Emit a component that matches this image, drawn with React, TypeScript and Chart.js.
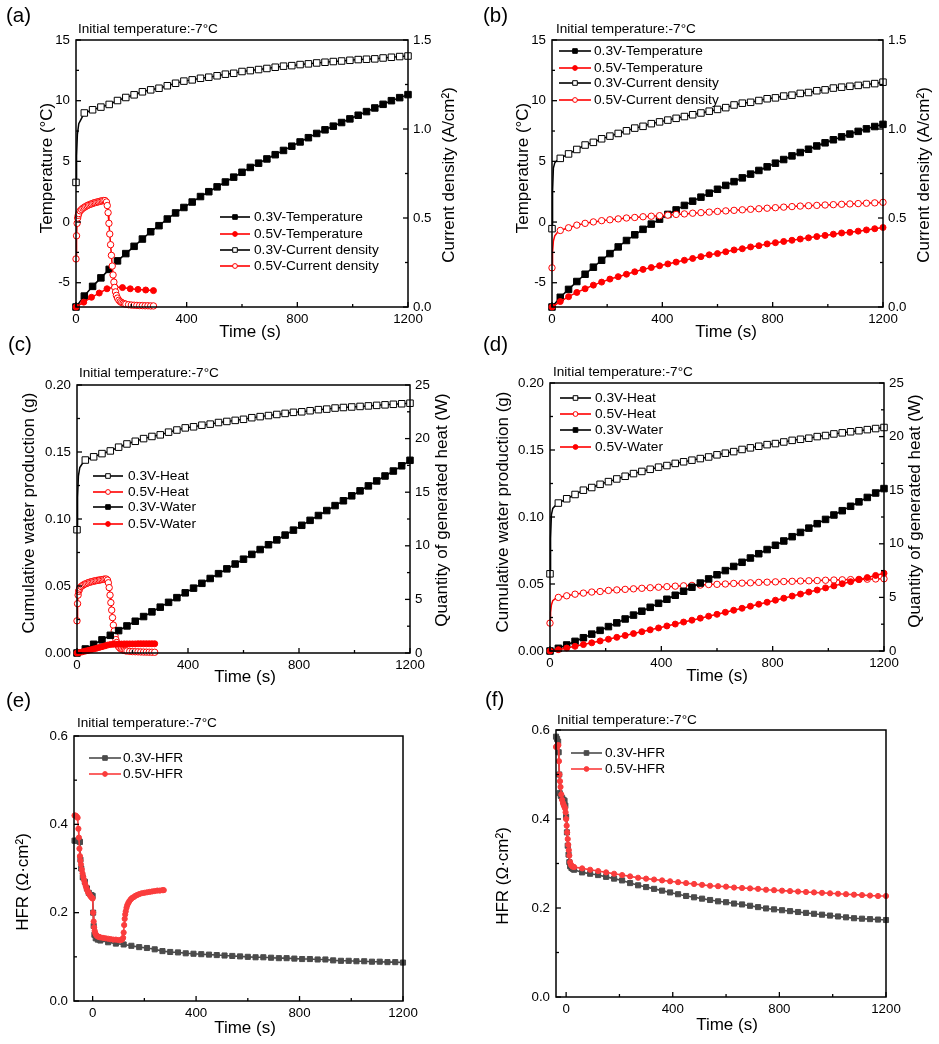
import { useEffect, useRef } from 'react';
import { Chart, registerables } from 'chart.js';

Chart.register(...registerables);

const FONT = '"Liberation Sans", Arial, Helvetica, sans-serif';
Chart.defaults.font.family = FONT;

const BLACK = '#000000';
const RED = '#ff0000';
const HFR_GRAY = '#4b4b4b';
const HFR_RED = '#fa3c3c';

// ---------- axis ticks ----------
const X_TICKS = [0, 400, 800, 1200];
const X_MINOR = [200, 600, 1000];
const TEMP_TICKS = [-5, 0, 5, 10, 15];
const TEMP_MINOR = [-2.5, 2.5, 7.5, 12.5];
const CD_TICKS = [0, 0.5, 1.0, 1.5];
const CD_MINOR = [0.25, 0.75, 1.25];
const WATER_TICKS = [0, 0.05, 0.1, 0.15, 0.2];
const WATER_MINOR = [0.025, 0.075, 0.125, 0.175];
const HEAT_TICKS = [0, 5, 10, 15, 20, 25];
const HEAT_MINOR = [2.5, 7.5, 12.5, 17.5, 22.5];
const HFR_TICKS = [0, 0.2, 0.4, 0.6];
const HFR_MINOR = [0.1, 0.3, 0.5];

// ---------- time bases (s) ----------
const T30 = [0, 30, 60, 90, 120, 150, 180, 210, 240, 270, 300, 330, 360, 390, 420, 450, 480, 510, 540, 570, 600,
  630, 660, 690, 720, 750, 780, 810, 840, 870, 900, 930, 960, 990, 1020, 1050, 1080, 1110, 1140, 1170, 1200];
const T_EARLY = [0, 2, 5, 10, 20, 30, 60, 90, 120, 150, 180, 210, 240, 270, 300, 330, 360, 390, 420, 450, 480, 510,
  540, 570, 600, 630, 660, 690, 720, 750, 780, 810, 840, 870, 900, 930, 960, 990, 1020, 1050, 1080, 1110, 1140, 1170, 1200];
const T30_TAIL = [30, 60, 90, 120, 150, 180, 210, 240, 270, 300, 330, 360, 390, 420, 450, 480, 510, 540, 570, 600,
  630, 660, 690, 720, 750, 780, 810, 840, 870, 900, 930, 960, 990, 1020, 1050, 1080, 1110, 1140, 1170, 1200];
const T_DENSE = [0, 2, 4, 6, 8, 10, 15, 20, 25, 30, 35, 40, 45, 50, 55, 60, 65, 70, 75, 80, 85, 90, 95, 100, 105,
  110, 113, 116, 119, 122, 125, 128, 131, 134, 137, 140, 143, 146, 150, 155, 160, 165, 170, 175, 180, 190, 200, 210,
  220, 230, 240, 250, 260, 270, 280];
const T10_280 = [0, 10, 20, 30, 40, 50, 60, 70, 80, 90, 100, 110, 120, 130, 140, 150, 160, 170, 180, 190, 200, 210,
  220, 230, 240, 250, 260, 270, 280];
const T_A05_TEMP = [0, 28, 56, 84, 112, 140, 168, 196, 224, 252, 280];

// ---------- (a) temperature / current density ----------
const A_TEMP_03 = [-7.0, -6.1, -5.3, -4.6, -3.9, -3.2, -2.6, -2.0, -1.4, -0.8, -0.3, 0.25, 0.75, 1.2, 1.65, 2.1, 2.5,
  2.9, 3.3, 3.7, 4.1, 4.5, 4.85, 5.2, 5.55, 5.9, 6.25, 6.6, 6.95, 7.3, 7.6, 7.9, 8.2, 8.5, 8.8, 9.1, 9.4, 9.7, 10.0,
  10.25, 10.5];
const A_TEMP_05 = [-7.0, -6.6, -6.2, -5.85, -5.5, -5.35, -5.4, -5.5, -5.55, -5.6, -5.65];
const A_CD_03 = [0.70, 0.85, 0.97, 1.03, 1.06, 1.09, 1.108, 1.123, 1.138, 1.16, 1.177, 1.192, 1.209, 1.22, 1.229,
  1.243, 1.257, 1.269, 1.276, 1.285, 1.291, 1.299, 1.308, 1.313, 1.323, 1.328, 1.334, 1.34, 1.347, 1.353, 1.356,
  1.362, 1.366, 1.371, 1.375, 1.379, 1.382, 1.386, 1.39, 1.392, 1.394, 1.399, 1.403, 1.407, 1.41];
const A_CD_05 = [0.27, 0.40, 0.47, 0.50, 0.515, 0.525, 0.54, 0.548, 0.555, 0.56, 0.565, 0.569, 0.573, 0.576, 0.579,
  0.582, 0.585, 0.587, 0.589, 0.591, 0.593, 0.595, 0.597, 0.598, 0.598, 0.59, 0.57, 0.53, 0.47, 0.41, 0.35, 0.29,
  0.23, 0.18, 0.14, 0.11, 0.085, 0.065, 0.05, 0.038, 0.03, 0.025, 0.021, 0.018, 0.016, 0.013, 0.011, 0.01, 0.009,
  0.008, 0.008, 0.007, 0.007, 0.006, 0.006];

// ---------- (b) temperature / current density ----------
const B_TEMP_03 = [-7.0, -6.2, -5.55, -4.9, -4.3, -3.72, -3.15, -2.6, -2.05, -1.52, -1.05, -0.6, -0.17, 0.24, 0.63,
  1.0, 1.37, 1.72, 2.05, 2.38, 2.7, 3.02, 3.33, 3.64, 3.95, 4.25, 4.55, 4.85, 5.15, 5.45, 5.73, 6.0, 6.27, 6.53,
  6.78, 7.02, 7.25, 7.47, 7.68, 7.87, 8.05];
const B_TEMP_05 = [-7.0, -6.55, -6.15, -5.8, -5.5, -5.2, -4.95, -4.7, -4.5, -4.3, -4.1, -3.9, -3.75, -3.6, -3.45,
  -3.3, -3.15, -3.0, -2.85, -2.7, -2.6, -2.45, -2.3, -2.2, -2.05, -1.95, -1.8, -1.7, -1.6, -1.5, -1.4, -1.3, -1.2,
  -1.1, -1.0, -0.9, -0.85, -0.75, -0.65, -0.55, -0.45];
const B_CD_03 = [0.44, 0.65, 0.78, 0.81, 0.825, 0.835, 0.86, 0.885, 0.91, 0.925, 0.945, 0.96, 0.975, 0.99, 1.005,
  1.015, 1.03, 1.04, 1.05, 1.06, 1.07, 1.08, 1.09, 1.1, 1.11, 1.12, 1.135, 1.145, 1.15, 1.16, 1.17, 1.175, 1.185,
  1.19, 1.2, 1.205, 1.215, 1.22, 1.23, 1.235, 1.24, 1.245, 1.25, 1.255, 1.263];
const B_CD_05 = [0.22, 0.31, 0.37, 0.40, 0.42, 0.43, 0.445, 0.46, 0.47, 0.478, 0.485, 0.49, 0.495, 0.5, 0.503, 0.507,
  0.51, 0.513, 0.516, 0.52, 0.523, 0.527, 0.53, 0.533, 0.537, 0.54, 0.543, 0.546, 0.549, 0.552, 0.555, 0.558, 0.561,
  0.564, 0.567, 0.569, 0.571, 0.573, 0.575, 0.577, 0.579, 0.581, 0.583, 0.585, 0.588];

// ---------- (c) water / heat ----------
const C_HEAT_03 = [11.5, 14.5, 16.5, 17.3, 17.7, 18.0, 18.3, 18.6, 18.85, 19.2, 19.5, 19.75, 20.0, 20.2, 20.35, 20.6,
  20.8, 21.0, 21.1, 21.25, 21.35, 21.5, 21.6, 21.7, 21.8, 21.95, 22.05, 22.15, 22.25, 22.35, 22.45, 22.5, 22.6, 22.7,
  22.75, 22.85, 22.9, 22.95, 23.0, 23.05, 23.1, 23.15, 23.2, 23.25, 23.3];
const C_HEAT_05 = [3.0, 4.6, 5.4, 5.75, 5.9, 6.05, 6.2, 6.3, 6.38, 6.45, 6.5, 6.55, 6.6, 6.63, 6.67, 6.7, 6.73, 6.76,
  6.78, 6.8, 6.83, 6.85, 6.87, 6.89, 6.9, 6.8, 6.55, 6.1, 5.4, 4.7, 4.0, 3.3, 2.6, 2.05, 1.6, 1.25, 0.98, 0.75, 0.58,
  0.44, 0.35, 0.29, 0.24, 0.21, 0.19, 0.15, 0.13, 0.12, 0.11, 0.1, 0.09, 0.085, 0.08, 0.075, 0.07];
const C_WATER_03 = [0, 0.003, 0.0065, 0.0098, 0.0132, 0.0167, 0.0202, 0.0237, 0.0272, 0.0307, 0.0342, 0.0378, 0.0413,
  0.0449, 0.0484, 0.052, 0.0556, 0.0592, 0.0628, 0.0664, 0.07, 0.0736, 0.0772, 0.0808, 0.0844, 0.088, 0.0917, 0.0953,
  0.099, 0.1026, 0.1063, 0.11, 0.1136, 0.1173, 0.121, 0.1247, 0.1284, 0.1321, 0.1358, 0.1397, 0.1438];
const C_WATER_05 = [0, 0.0004, 0.0009, 0.0014, 0.0019, 0.0024, 0.003, 0.0035, 0.0041, 0.0047, 0.0053, 0.0059, 0.0063,
  0.0065, 0.0066, 0.0067, 0.0067, 0.0068, 0.0068, 0.0068, 0.0068, 0.0068, 0.0069, 0.0069, 0.0069, 0.0069, 0.0069,
  0.0069, 0.0069];

// ---------- (d) water / heat ----------
const D_HEAT_03 = [7.2, 10.5, 12.7, 13.3, 13.6, 13.8, 14.2, 14.6, 15.0, 15.25, 15.55, 15.8, 16.05, 16.3, 16.55, 16.75,
  16.95, 17.15, 17.3, 17.5, 17.65, 17.8, 17.95, 18.1, 18.3, 18.45, 18.6, 18.8, 18.95, 19.1, 19.25, 19.35, 19.5, 19.65,
  19.75, 19.85, 20.0, 20.1, 20.25, 20.35, 20.45, 20.55, 20.65, 20.75, 20.85];
const D_HEAT_05 = [2.6, 3.6, 4.3, 4.7, 4.9, 5.0, 5.15, 5.3, 5.4, 5.5, 5.55, 5.65, 5.7, 5.75, 5.8, 5.85, 5.9, 5.95, 6.0,
  6.05, 6.08, 6.12, 6.15, 6.2, 6.22, 6.25, 6.3, 6.33, 6.36, 6.4, 6.42, 6.45, 6.48, 6.5, 6.53, 6.55, 6.57, 6.6, 6.62,
  6.64, 6.66, 6.68, 6.7, 6.72, 6.74];
const D_WATER_03 = [0, 0.002, 0.0045, 0.0072, 0.0099, 0.0126, 0.0154, 0.0182, 0.021, 0.0239, 0.0268, 0.0297, 0.0326,
  0.0356, 0.0386, 0.0416, 0.0446, 0.0476, 0.0507, 0.0538, 0.0569, 0.06, 0.0631, 0.0662, 0.0694, 0.0726, 0.0757,
  0.0789, 0.0821, 0.0853, 0.0885, 0.0917, 0.095, 0.0982, 0.1015, 0.1047, 0.108, 0.1113, 0.1146, 0.1179, 0.1212];
const D_WATER_05 = [0, 0.001, 0.0022, 0.0035, 0.0048, 0.0061, 0.0075, 0.0088, 0.0102, 0.0116, 0.013, 0.0144, 0.0158,
  0.0172, 0.0187, 0.0201, 0.0216, 0.023, 0.0245, 0.026, 0.0274, 0.0289, 0.0304, 0.0319, 0.0334, 0.0349, 0.0364,
  0.0379, 0.0394, 0.041, 0.0425, 0.044, 0.0455, 0.0471, 0.0486, 0.0502, 0.0517, 0.0533, 0.0548, 0.0564, 0.058];

// ---------- (e) HFR ----------
const E_GRAY_EARLY_T = [-70, -60, -52, -49, -47, -44, -38, -30, -22, -15, -5, 0, 2, 4, 7, 12, 20];
const E_GRAY_EARLY = [0.363, 0.363, 0.362, 0.36, 0.32, 0.3, 0.28, 0.27, 0.255, 0.245, 0.24, 0.238, 0.2, 0.17, 0.15,
  0.142, 0.139];
const E_GRAY_TAIL = [0.137, 0.133, 0.13, 0.128, 0.125, 0.122, 0.12, 0.117, 0.113, 0.111, 0.11, 0.108, 0.107, 0.106,
  0.105, 0.104, 0.103, 0.102, 0.101, 0.1, 0.099, 0.099, 0.098, 0.097, 0.097, 0.096, 0.095, 0.095, 0.094, 0.094, 0.092,
  0.091, 0.091, 0.09, 0.09, 0.089, 0.089, 0.088, 0.088, 0.087];
const E_RED_T = [-70, -66, -62, -58, -55, -53, -51, -49, -47, -45, -42, -39, -36, -33, -30, -27, -24, -21, -18, -15,
  -12, -9, -6, -3, 0, 2, 4, 6, 8, 10, 13, 16, 20, 25, 30, 40, 50, 60, 70, 80, 90, 100, 108, 114, 118, 120, 122, 124,
  126, 128, 131, 134, 138, 142, 147, 152, 158, 165, 172, 180, 190, 200, 210, 220, 230, 240, 250, 260, 270, 275];
const E_RED = [0.42, 0.42, 0.418, 0.415, 0.39, 0.37, 0.345, 0.328, 0.318, 0.309, 0.298, 0.289, 0.281, 0.274, 0.267,
  0.261, 0.256, 0.251, 0.247, 0.244, 0.241, 0.238, 0.236, 0.234, 0.232, 0.2, 0.18, 0.167, 0.159, 0.154, 0.15, 0.148,
  0.146, 0.145, 0.144, 0.143, 0.142, 0.141, 0.14, 0.139, 0.139, 0.138, 0.138, 0.139, 0.143, 0.155, 0.172, 0.186,
  0.196, 0.203, 0.211, 0.217, 0.222, 0.226, 0.23, 0.233, 0.235, 0.238, 0.24, 0.242, 0.244, 0.245, 0.246, 0.247,
  0.248, 0.249, 0.25, 0.25, 0.251, 0.251];

// ---------- (f) HFR ----------
const F_GRAY_EARLY_T = [-38, -34, -30, -28, -26, -24, -20, -15, -10, -6, -3, 0, 3, 6, 9, 12, 15, 20, 25];
const F_GRAY_EARLY = [0.585, 0.58, 0.574, 0.55, 0.5, 0.458, 0.452, 0.447, 0.443, 0.441, 0.43, 0.405, 0.37, 0.34,
  0.32, 0.303, 0.294, 0.29, 0.288];
const F_GRAY_TAIL = [0.286, 0.28, 0.277, 0.274, 0.27, 0.266, 0.262, 0.256, 0.251, 0.247, 0.243, 0.239, 0.235, 0.231,
  0.227, 0.224, 0.221, 0.218, 0.215, 0.213, 0.21, 0.208, 0.205, 0.202, 0.199, 0.197, 0.195, 0.193, 0.191, 0.189,
  0.187, 0.185, 0.183, 0.181, 0.179, 0.177, 0.176, 0.175, 0.174, 0.173];
const F_RED_EARLY_T = [-38, -35, -32, -29, -27, -25, -23, -21, -18, -15, -12, -9, -6, -4, -2, 0, 2, 4, 6, 8, 10, 12,
  15, 18, 22, 26];
const F_RED_EARLY = [0.562, 0.563, 0.565, 0.566, 0.53, 0.5, 0.485, 0.472, 0.455, 0.443, 0.436, 0.431, 0.427, 0.424,
  0.415, 0.4, 0.385, 0.37, 0.355, 0.342, 0.33, 0.318, 0.303, 0.297, 0.294, 0.293];
const F_RED_TAIL = [0.292, 0.289, 0.286, 0.283, 0.28, 0.277, 0.274, 0.271, 0.268, 0.266, 0.264, 0.262, 0.26, 0.258,
  0.256, 0.254, 0.252, 0.25, 0.249, 0.248, 0.246, 0.245, 0.244, 0.243, 0.241, 0.24, 0.239, 0.238, 0.237, 0.236, 0.235,
  0.234, 0.233, 0.232, 0.231, 0.23, 0.229, 0.228, 0.227, 0.227];

const NOTE = 'Initial temperature:-7°C';

type Marks = 'grid' | 'all' | 'hybrid';
interface Series {
  label: string; t: number[]; v: number[]; axis: 'y' | 'y1'; color: string;
  shape: 'rect' | 'circle'; filled: boolean; marks: Marks; r: number; lw: number;
}

const ser = (label: string, t: number[], v: number[], axis: 'y' | 'y1', color: string, shape: 'rect' | 'circle',
  filled: boolean, marks: Marks, r: number, lw = 1.5): Series => ({ label, t, v, axis, color, shape, filled, marks, r, lw });

const SQ = 4.6; // marker radius for squares (a-d)
const CI = 3.2; // marker radius for circles (a-d)

const PANELS: any[] = [
  {
    id: 'a', canvas: { x: 0, y: 0, w: 470, h: 350 }, area: { L: 76, T: 40, R: 408, B: 307 },
    x: { min: 0, max: 1200 },
    y: { min: -7, max: 15, ticks: TEMP_TICKS, minor: TEMP_MINOR, dec: 0 },
    y1: { min: 0, max: 1.5, ticks: CD_TICKS, minor: CD_MINOR, dec: 1 },
    series: [
      ser('0.3V-Temperature', T30, A_TEMP_03, 'y', BLACK, 'rect', true, 'grid', SQ),
      ser('0.5V-Temperature', T_A05_TEMP, A_TEMP_05, 'y', RED, 'circle', true, 'all', 3),
      ser('0.3V-Current density', T_EARLY, A_CD_03, 'y1', BLACK, 'rect', false, 'grid', SQ),
      ser('0.5V-Current density', T_DENSE, A_CD_05, 'y1', RED, 'circle', false, 'all', CI),
    ],
    legend: { x0: 220, x1: 250, tx: 254, rows: [217, 234, 250, 266], font: 13.7 },
    tag: { text: '(a)', x: 6, y: 16.5 }, note: { x: 78, y: 29 },
    xTitle: { text: 'Time (s)', x: 250, y: 332 },
    yTitle: { text: 'Temperature (°C)', x: 47, y: 168 },
    y1Title: { text: 'Current density (A/cm²)', x: 449, y: 175 },
  },
  {
    id: 'b', canvas: { x: 470, y: 0, w: 469, h: 350 }, area: { L: 552, T: 40, R: 883, B: 307 },
    x: { min: 0, max: 1200 },
    y: { min: -7, max: 15, ticks: TEMP_TICKS, minor: TEMP_MINOR, dec: 0 },
    y1: { min: 0, max: 1.5, ticks: CD_TICKS, minor: CD_MINOR, dec: 1 },
    series: [
      ser('0.3V-Temperature', T30, B_TEMP_03, 'y', BLACK, 'rect', true, 'grid', SQ),
      ser('0.5V-Temperature', T30, B_TEMP_05, 'y', RED, 'circle', true, 'grid', 3),
      ser('0.3V-Current density', T_EARLY, B_CD_03, 'y1', BLACK, 'rect', false, 'grid', SQ),
      ser('0.5V-Current density', T_EARLY, B_CD_05, 'y1', RED, 'circle', false, 'grid', CI),
    ],
    legend: { x0: 559, x1: 591, tx: 594, rows: [51, 68, 83, 100], font: 13.7 },
    tag: { text: '(b)', x: 483, y: 16.5 }, note: { x: 556, y: 29 },
    xTitle: { text: 'Time (s)', x: 726, y: 332 },
    yTitle: { text: 'Temperature (°C)', x: 523, y: 168 },
    y1Title: { text: 'Current density (A/cm²)', x: 924, y: 175 },
  },
  {
    id: 'c', canvas: { x: 0, y: 335, w: 470, h: 350 }, area: { L: 77, T: 385, R: 410, B: 653 },
    x: { min: 0, max: 1200 },
    y: { min: 0, max: 0.2, ticks: WATER_TICKS, minor: WATER_MINOR, dec: 2 },
    y1: { min: 0, max: 25, ticks: HEAT_TICKS, minor: HEAT_MINOR, dec: 0 },
    series: [
      ser('0.3V-Heat', T_EARLY, C_HEAT_03, 'y1', BLACK, 'rect', false, 'grid', SQ),
      ser('0.5V-Heat', T_DENSE, C_HEAT_05, 'y1', RED, 'circle', false, 'all', CI),
      ser('0.3V-Water', T30, C_WATER_03, 'y', BLACK, 'rect', true, 'grid', SQ),
      ser('0.5V-Water', T10_280, C_WATER_05, 'y', RED, 'circle', true, 'all', 3),
    ],
    legend: { x0: 93, x1: 123, tx: 128, rows: [476, 492, 507, 524], font: 13.7 },
    tag: { text: '(c)', x: 8, y: 345 }, note: { x: 79, y: 373 },
    xTitle: { text: 'Time (s)', x: 245, y: 677 },
    yTitle: { text: 'Cumulative water production (g)', x: 29, y: 513 },
    y1Title: { text: 'Quantity of generated heat (W)', x: 442, y: 510 },
  },
  {
    id: 'd', canvas: { x: 470, y: 335, w: 469, h: 350 }, area: { L: 550, T: 383, R: 884, B: 651 },
    x: { min: 0, max: 1200 },
    y: { min: 0, max: 0.2, ticks: WATER_TICKS, minor: WATER_MINOR, dec: 2 },
    y1: { min: 0, max: 25, ticks: HEAT_TICKS, minor: HEAT_MINOR, dec: 0 },
    series: [
      ser('0.3V-Heat', T_EARLY, D_HEAT_03, 'y1', BLACK, 'rect', false, 'grid', SQ),
      ser('0.5V-Heat', T_EARLY, D_HEAT_05, 'y1', RED, 'circle', false, 'grid', CI),
      ser('0.3V-Water', T30, D_WATER_03, 'y', BLACK, 'rect', true, 'grid', SQ),
      ser('0.5V-Water', T30, D_WATER_05, 'y', RED, 'circle', true, 'grid', 3),
    ],
    legend: { x0: 560, x1: 591, tx: 595, rows: [398, 414, 430, 447], font: 13.7 },
    tag: { text: '(d)', x: 483, y: 345 }, note: { x: 553, y: 372 },
    xTitle: { text: 'Time (s)', x: 717, y: 676 },
    yTitle: { text: 'Cumulative water production (g)', x: 503, y: 512 },
    y1Title: { text: 'Quantity of generated heat (W)', x: 915, y: 511 },
  },
  {
    id: 'e', canvas: { x: 0, y: 680, w: 470, h: 364 }, area: { L: 74, T: 736, R: 403, B: 1001 },
    x: { min: -72, max: 1200 },
    y: { min: 0, max: 0.6, ticks: HFR_TICKS, minor: HFR_MINOR, dec: 1 },
    series: [
      ser('0.3V-HFR', [...E_GRAY_EARLY_T, ...T30_TAIL], [...E_GRAY_EARLY, ...E_GRAY_TAIL], 'y', HFR_GRAY, 'rect', true, 'hybrid', 3.6, 1.6),
      ser('0.5V-HFR', E_RED_T, E_RED, 'y', HFR_RED, 'circle', true, 'all', 2.6, 1.6),
    ],
    legend: { x0: 89, x1: 121, tx: 123, rows: [758, 774], font: 13.7 },
    tag: { text: '(e)', x: 6, y: 701 }, note: { x: 77, y: 723 },
    xTitle: { text: 'Time (s)', x: 245, y: 1028 },
    yTitle: { text: 'HFR (Ω·cm²)', x: 23, y: 882 },
  },
  {
    id: 'f', canvas: { x: 470, y: 680, w: 469, h: 364 }, area: { L: 556, T: 730, R: 886, B: 997 },
    x: { min: -38, max: 1200 },
    y: { min: 0, max: 0.6, ticks: HFR_TICKS, minor: HFR_MINOR, dec: 1 },
    series: [
      ser('0.3V-HFR', [...F_GRAY_EARLY_T, ...T30_TAIL], [...F_GRAY_EARLY, ...F_GRAY_TAIL], 'y', HFR_GRAY, 'rect', true, 'hybrid', 3.6, 1.6),
      ser('0.5V-HFR', [...F_RED_EARLY_T, ...T30_TAIL], [...F_RED_EARLY, ...F_RED_TAIL], 'y', HFR_RED, 'circle', true, 'hybrid', 2.6, 1.6),
    ],
    legend: { x0: 571, x1: 602, tx: 605, rows: [753, 769], font: 13.7 },
    tag: { text: '(f)', x: 485, y: 700 }, note: { x: 557, y: 720 },
    xTitle: { text: 'Time (s)', x: 727, y: 1025 },
    yTitle: { text: 'HFR (Ω·cm²)', x: 503, y: 876 },
  },
];

const showMark = (m: Marks, t: number) =>
  m === 'all' ? true : m === 'grid' ? t % 30 === 0 : (t < 30 || t % 30 === 0);

const font = (size: number) => `${size}px ${FONT}`;

function drawMarker(ctx: CanvasRenderingContext2D, s: Series, x: number, y: number, h: number) {
  ctx.beginPath();
  if (s.shape === 'rect') ctx.rect(x - h, y - h, 2 * h, 2 * h);
  else ctx.arc(x, y, h, 0, Math.PI * 2);
  ctx.fillStyle = s.filled ? s.color : '#ffffff';
  ctx.fill();
  ctx.lineWidth = 1;
  ctx.strokeStyle = s.color;
  ctx.stroke();
}

// frame, inward ticks, legend and labels drawn on top of the plot
function framePlugin(p: any) {
  return {
    id: 'frame-' + p.id,
    afterDraw(chart: any) {
      const { ctx, chartArea: a, scales } = chart;
      const ox = p.canvas.x;
      const oy = p.canvas.y;
      ctx.save();
      ctx.strokeStyle = '#000';
      ctx.lineWidth = 1.5;
      ctx.strokeRect(a.left, a.top, a.right - a.left, a.bottom - a.top);

      const seg = (x1: number, y1: number, x2: number, y2: number) => {
        ctx.beginPath(); ctx.moveTo(x1, y1); ctx.lineTo(x2, y2); ctx.stroke();
      };
      const MAJ = 5, MIN = 3;
      ctx.lineWidth = 1.3;
      X_TICKS.forEach(v => { const x = scales.x.getPixelForValue(v); seg(x, a.bottom, x, a.bottom - MAJ); });
      X_MINOR.forEach(v => { const x = scales.x.getPixelForValue(v); seg(x, a.bottom, x, a.bottom - MIN); });
      p.y.ticks.forEach((v: number) => { const y = scales.y.getPixelForValue(v); seg(a.left, y, a.left + MAJ, y); });
      p.y.minor.forEach((v: number) => { const y = scales.y.getPixelForValue(v); seg(a.left, y, a.left + MIN, y); });
      if (p.y1) {
        p.y1.ticks.forEach((v: number) => { const y = scales.y1.getPixelForValue(v); seg(a.right, y, a.right - MAJ, y); });
        p.y1.minor.forEach((v: number) => { const y = scales.y1.getPixelForValue(v); seg(a.right, y, a.right - MIN, y); });
      }

      // legend
      const lg = p.legend;
      p.series.forEach((s: Series, i: number) => {
        const y = lg.rows[i] - oy;
        ctx.strokeStyle = s.color;
        ctx.lineWidth = 1.6;
        seg(lg.x0 - ox, y, lg.x1 - ox, y);
        drawMarker(ctx, s, (lg.x0 + lg.x1) / 2 - ox, y, s.shape === 'rect' ? 2.3 : 2.4);
        ctx.fillStyle = '#000';
        ctx.font = font(lg.font);
        ctx.textAlign = 'left';
        ctx.textBaseline = 'middle';
        ctx.fillText(s.label, lg.tx - ox, y + 0.5);
      });

      // labels
      ctx.fillStyle = '#000';
      ctx.textBaseline = 'middle';
      ctx.textAlign = 'left';
      ctx.font = font(20.5);
      ctx.fillText(p.tag.text, p.tag.x - ox, p.tag.y - oy);
      ctx.font = font(13.6);
      ctx.fillText(NOTE, p.note.x - ox, p.note.y - oy);
      ctx.textAlign = 'center';
      ctx.font = font(17);
      ctx.fillText(p.xTitle.text, p.xTitle.x - ox, p.xTitle.y - oy);
      const vtext = (t: any) => {
        ctx.save();
        ctx.translate(t.x - ox, t.y - oy);
        ctx.rotate(-Math.PI / 2);
        ctx.fillText(t.text, 0, 0);
        ctx.restore();
      };
      vtext(p.yTitle);
      if (p.y1Title) vtext(p.y1Title);
      ctx.restore();
    },
  };
}

const WL = 40, WR = 40, HB = 30;
const TICK_FONT = { family: FONT, size: 13.3 };

function yScale(ax: any, position: 'left' | 'right', width: number) {
  return {
    type: 'linear', position, min: ax.min, max: ax.max,
    afterFit: (s: any) => { s.width = width; },
    afterBuildTicks: (s: any) => { s.ticks = ax.ticks.map((v: number) => ({ value: v })); },
    ticks: {
      color: '#000', font: TICK_FONT, padding: position === 'left' ? 6 : 5,
      callback: (v: any) => Number(v).toFixed(ax.dec),
    },
    grid: { display: false, drawTicks: false, tickLength: 0 }, border: { display: false },
  };
}

function buildConfig(p: any) {
  const pad = {
    left: p.area.L - p.canvas.x - WL,
    top: p.area.T - p.canvas.y,
    right: p.canvas.x + p.canvas.w - p.area.R - (p.y1 ? WR : 0),
    bottom: p.canvas.y + p.canvas.h - p.area.B - HB,
  };
  const n = p.series.length;
  const scales: any = {
    x: {
      type: 'linear', position: 'bottom', min: p.x.min, max: p.x.max,
      afterFit: (s: any) => { s.height = HB; },
      afterBuildTicks: (s: any) => { s.ticks = X_TICKS.map(v => ({ value: v })); },
      ticks: {
        color: '#000', font: TICK_FONT, padding: 4, autoSkip: false,
        maxRotation: 0, minRotation: 0, callback: (v: any) => String(v),
      },
      grid: { display: false, drawTicks: false, tickLength: 0 }, border: { display: false },
    },
    y: yScale(p.y, 'left', WL),
  };
  if (p.y1) scales.y1 = yScale(p.y1, 'right', WR);

  return {
    type: 'line',
    data: {
      datasets: p.series.map((s: Series, i: number) => ({
        label: s.label,
        data: s.t.map((x, k) => ({ x, y: s.v[k] })),
        yAxisID: s.axis,
        borderColor: s.color,
        borderWidth: s.lw,
        pointStyle: s.shape,
        pointRadius: s.t.map(x => (showMark(s.marks, x) ? s.r : 0)),
        pointHoverRadius: 0,
        pointHitRadius: 0,
        pointBackgroundColor: s.filled ? s.color : '#ffffff',
        pointBorderColor: s.color,
        pointBorderWidth: 1,
        tension: 0,
        fill: false,
        clip: false,
        order: n - i,
      })),
    },
    options: {
      responsive: false,
      animation: false,
      devicePixelRatio: 1,
      events: [],
      layout: { padding: pad },
      plugins: { legend: { display: false }, tooltip: { enabled: false }, title: { display: false } },
      scales,
    },
    plugins: [framePlugin(p)],
  };
}

function PanelChart({ p }: { p: any }) {
  const ref = useRef<HTMLCanvasElement>(null);
  useEffect(() => {
    const chart = new Chart(ref.current as HTMLCanvasElement, buildConfig(p) as any);
    return () => chart.destroy();
  }, [p]);
  return (
    <canvas
      ref={ref}
      width={p.canvas.w}
      height={p.canvas.h}
      style={{ position: 'absolute', left: p.canvas.x, top: p.canvas.y, width: p.canvas.w, height: p.canvas.h }}
    />
  );
}

export default function App() {
  return (
    <div style={{ position: 'absolute', left: 0, top: 0, width: 939, height: 1044, background: '#fff', overflow: 'hidden' }}>
      {PANELS.map(p => <PanelChart key={p.id} p={p} />)}
    </div>
  );
}
